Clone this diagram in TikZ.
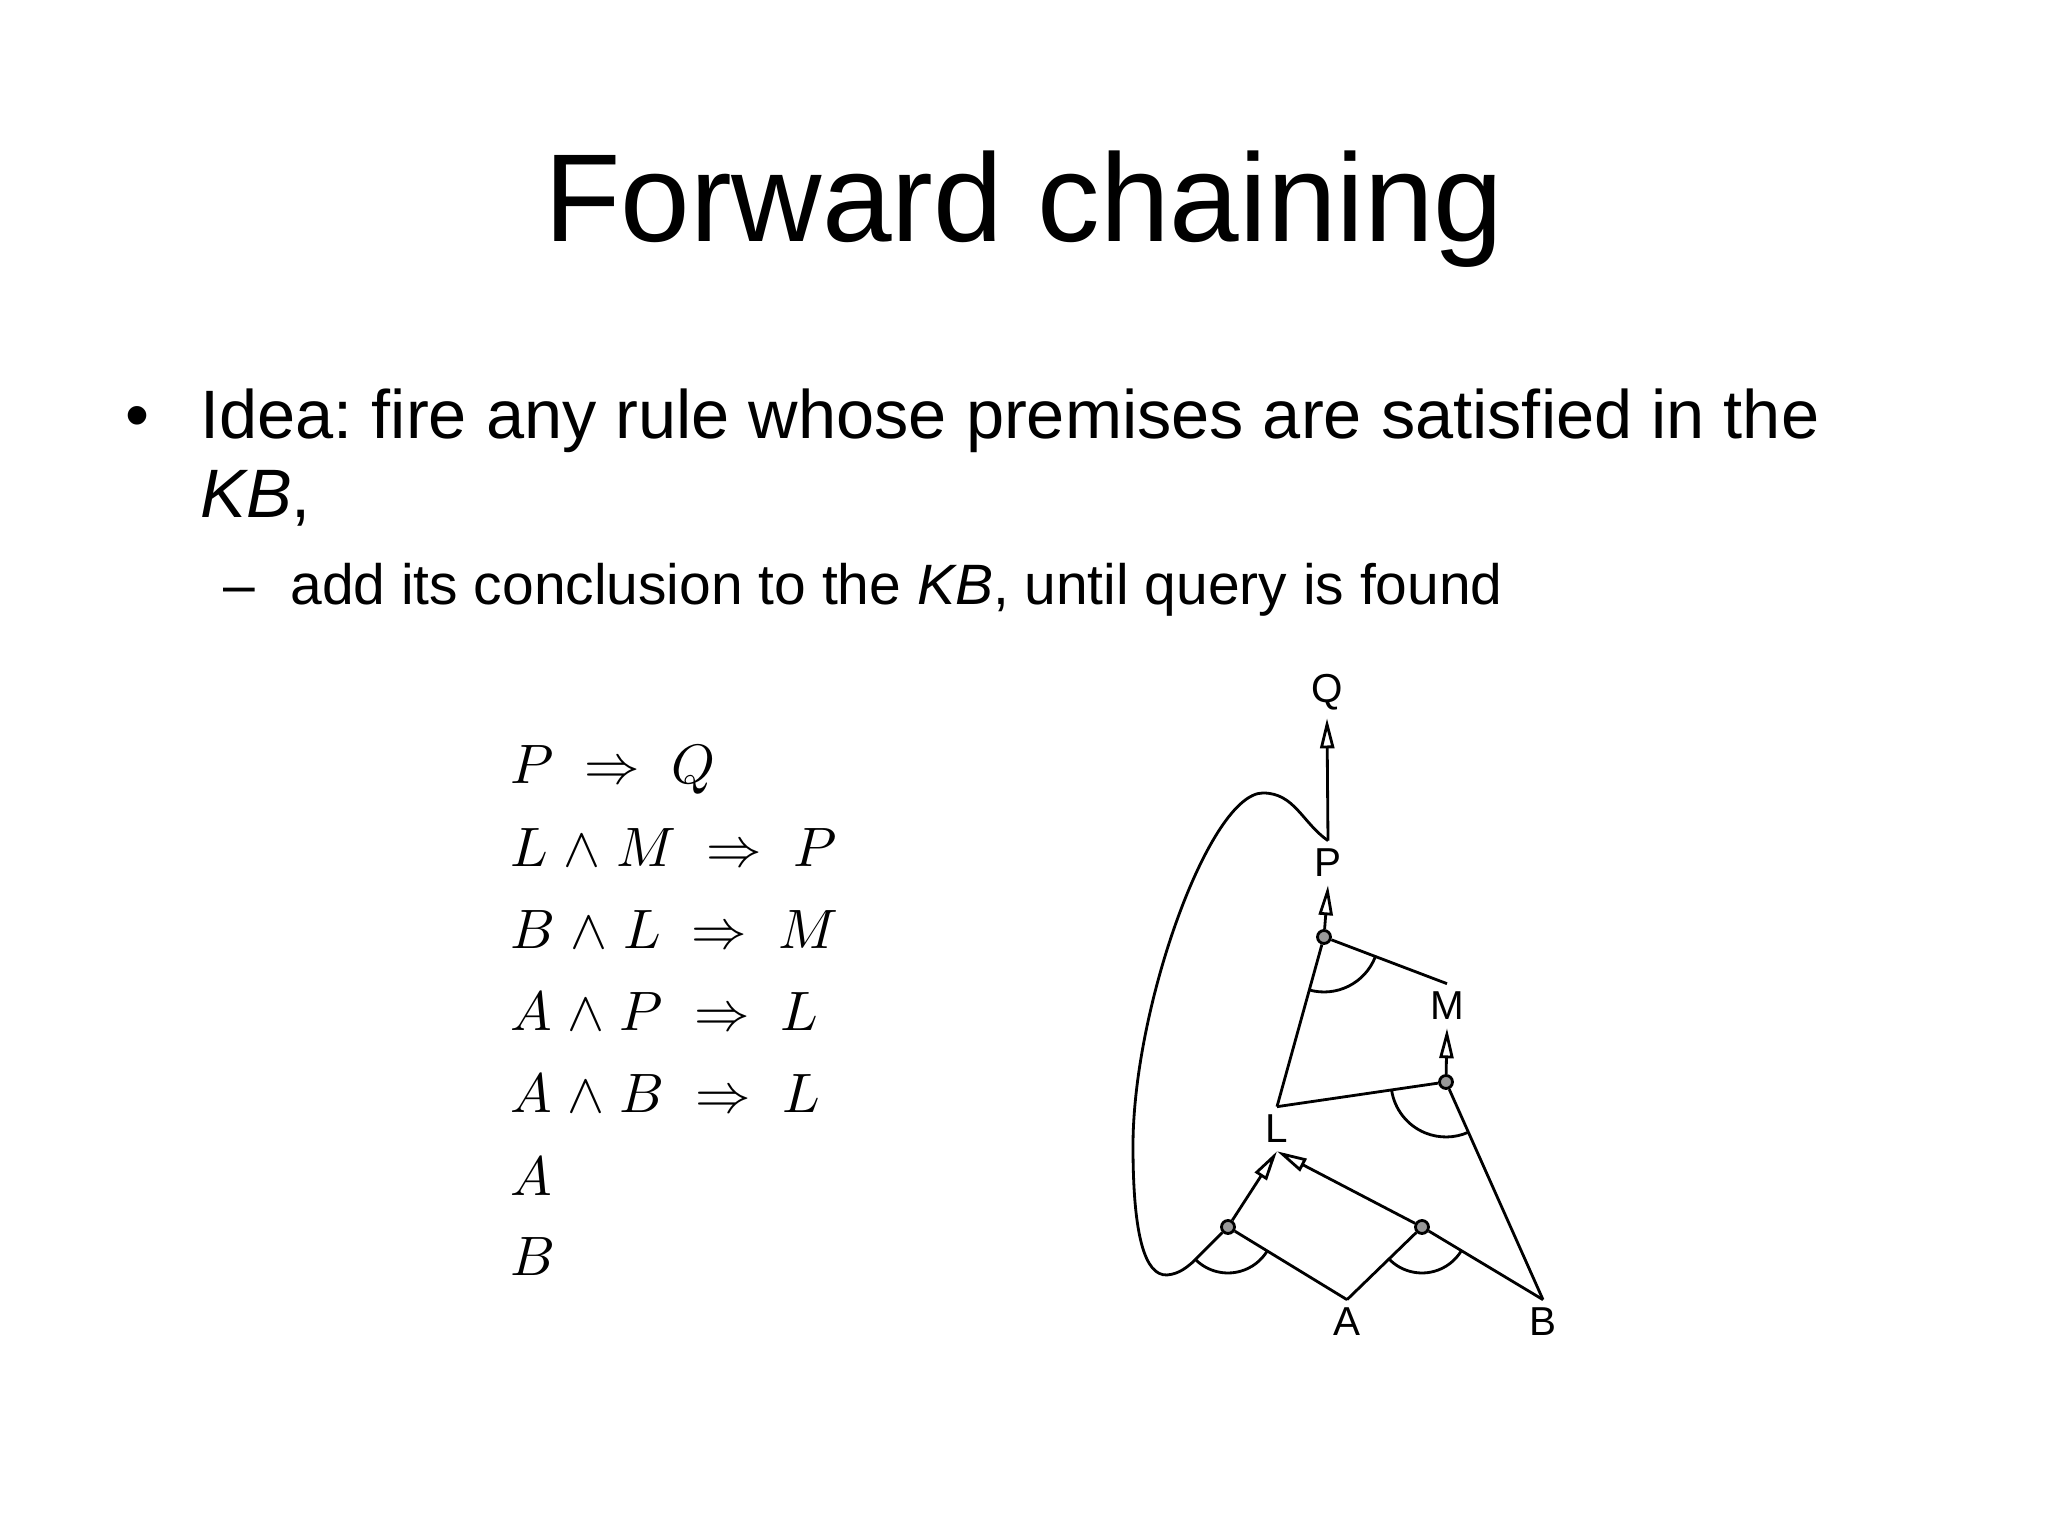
\documentclass[tikz,border=0pt]{standalone}
\usepackage[no-math]{fontspec}
\usepackage{graphicx}
\setmainfont{Liberation Sans}
\usetikzlibrary{arrows.meta,calc}
\def\andarc[#1](#2)(#3:#4:#5){\draw[#1] ($(#2)+({#5*cos(#3)},{#5*sin(#3)})$) arc (#3:#4:#5);}
\def\kb#1{\scalebox{1.58}{$#1$}}
\frenchspacing

\tikzset{
	lbl/.style={font=\fontsize{11.5}{13}\selectfont, inner sep=0.07cm},
	andpt/.style={circle, draw, fill=black!40, inner sep=0pt, minimum size=1.3mm},
	imp/.style={-{Triangle[open,length=3mm,width=1.4mm]}},
	kbline/.style={anchor=base west, inner sep=0pt, font=\fontsize{10}{12}\selectfont},
	slide/.style={anchor=base west, inner sep=0pt}
}

\begin{document}
\begin{tikzpicture}[line width=0.8pt]
			%%%%% START %%%%%
			\useasboundingbox (0, 0) rectangle (20.48, 15.36);
			
			\node[anchor=base, inner sep=0pt, font=\fontsize{35.6}{40}\selectfont] (title) at (10.24, 12.94) {Forward chaining};
			
			\node[anchor=base, inner sep=0pt, font=\fontsize{19.5}{24}\selectfont] (dot) at (1.37, 10.97) {•};
			\node[slide, font=\fontsize{19.5}{24}\selectfont] (idea) at (1.99, 10.97) {Idea: fire any rule whose premises are satisfied in the};
			\node[slide, font=\fontsize{19.5}{24}\selectfont] (idea2) at (1.99, 10.18) {\textit{KB},};
			\node[slide, font=\fontsize{16.2}{20}\selectfont] (dash) at (2.22, 9.31) {–};
			\node[slide, font=\fontsize{16.2}{20}\selectfont] (add) at (2.89, 9.31) {add its conclusion to the \textit{KB}, until query is found};
			
			\node[kbline] (kb1) at (5.09, 7.52) {\kb{P \;\Rightarrow\; Q}};
			\node[kbline] (kb2) at (5.09, 6.69) {\kb{L \mskip1mu\land\mskip1mu M \;\Rightarrow\; P}};
			\node[kbline] (kb3) at (5.09, 5.87) {\kb{B \mskip1mu\land\mskip1mu L \;\Rightarrow\; M}};
			\node[kbline] (kb4) at (5.09, 5.05) {\kb{A \mskip1mu\land\mskip1mu P \;\Rightarrow\; L}};
			\node[kbline] (kb5) at (5.09, 4.23) {\kb{A \mskip1mu\land\mskip1mu B \;\Rightarrow\; L}};
			\node[kbline] (kb6) at (5.09, 3.40) {\kb{A}};
			\node[kbline] (kb7) at (5.09, 2.60) {\kb{B}};
			
			\node[lbl] (Q) at (13.27, 8.44) {Q};
			\node[lbl] (P) at (13.28, 6.73) {P};
			\node[lbl] (M) at (14.47, 5.30) {M};
			\node[lbl] (L) at (12.77, 4.07) {L};
			\node[lbl] (A) at (13.47, 2.14) {A};
			\node[lbl] (B) at (15.43, 2.14) {B};
			
			\node[andpt] (andLM) at (13.24, 5.99) {};
			\node[andpt] (andBL) at (14.46, 4.54) {};
			\node[andpt] (andAP) at (12.28, 3.09) {};
			\node[andpt] (andAB) at (14.22, 3.09) {};
			
			\draw[imp] (P.north) -- (Q.south);
			\draw[imp] (andLM) -- (P.south);
			\draw[imp] (andBL) -- (M.south);
			\draw[imp] (andAP) -- (L.south);
			\draw[imp] (andAB) -- (L.south);
			
			\draw (L.north) -- (andLM) -- (M.north);
			\draw (L.north) -- (andBL) -- (B.north);
			\draw (A.north) -- (andAP);
			\draw (A.north) -- (andAB) -- (B.north);
			
			\draw (P.north) to[out=145, in=0] (12.63, 7.43)
				.. controls (12.1, 7.43) and (11.33, 5.3) .. (11.33, 3.9)
				.. controls (11.33, 3.0) and (11.45, 2.6) .. (11.67, 2.61)
				.. controls (11.8, 2.62) and (11.88, 2.70) .. (11.93, 2.74) -- (andAP);
			
			\andarc[](andLM)(254:339:0.55);
			\andarc[](andBL)(188:294:0.55);
			\andarc[](andAP)(226:329:0.46);
			\andarc[](andAB)(225:329:0.46);
			
			%%%%% END %%%%%
\end{tikzpicture}
\end{document}
